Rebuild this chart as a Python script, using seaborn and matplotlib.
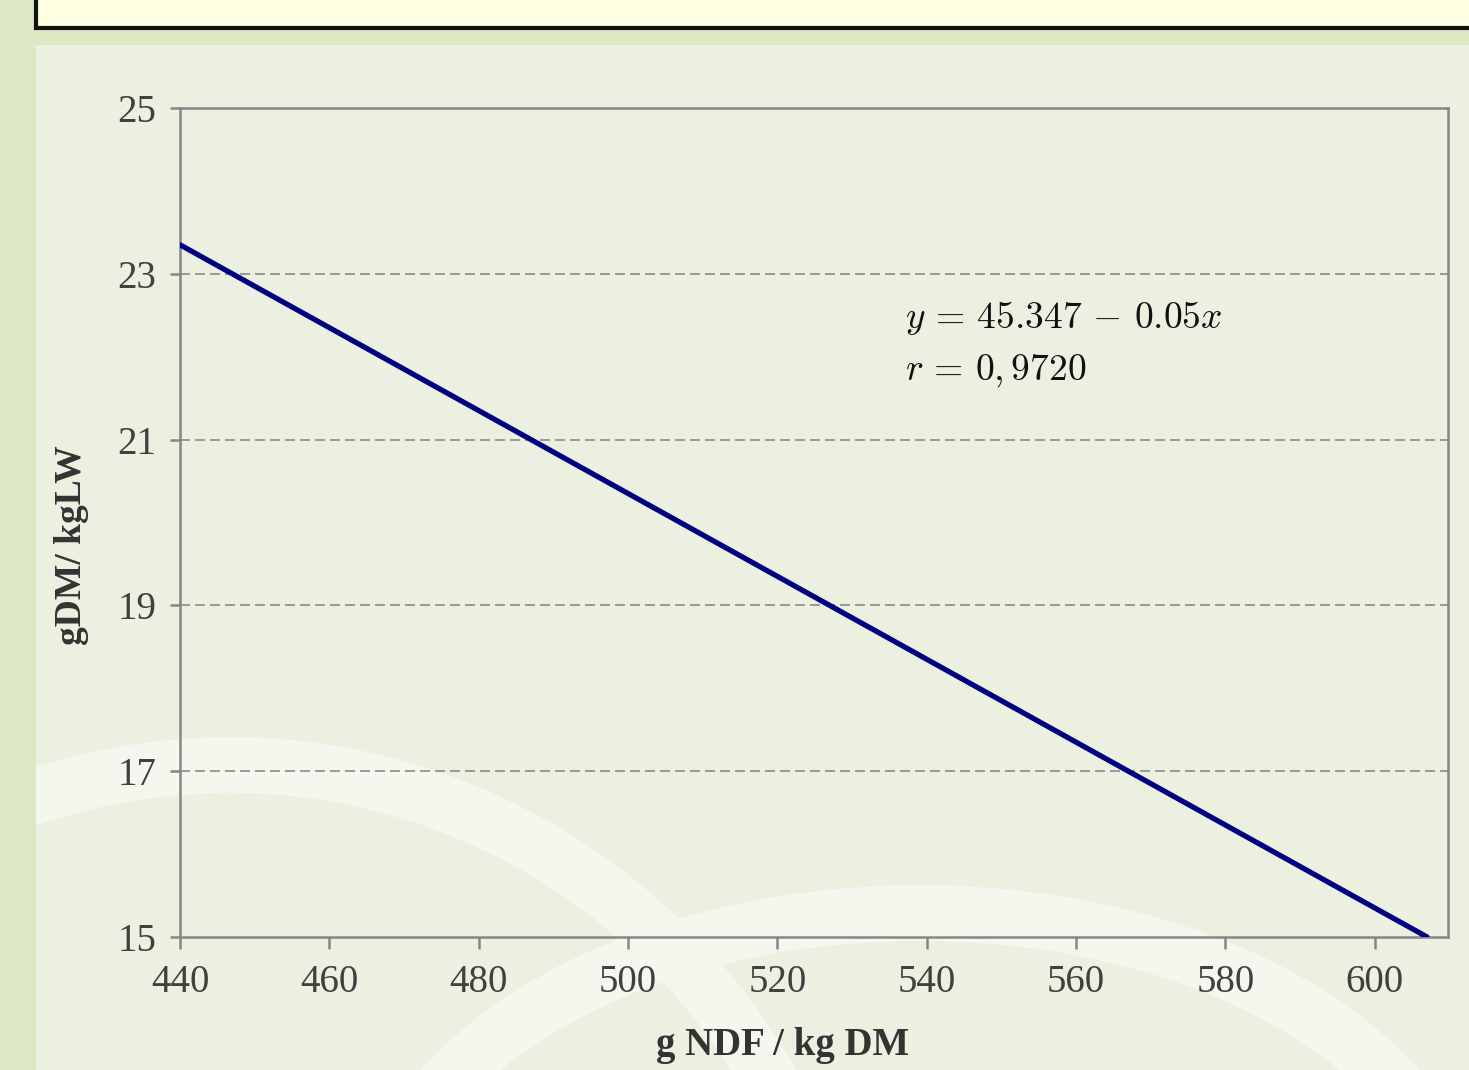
"""
Intake vs NDF content: linear regression line on a slide-style background.
"""

import matplotlib.pyplot as plt
import pandas as pd
import seaborn as sns
from matplotlib.patches import Ellipse, Rectangle

# Data
ndf = [440, 607]
intake = [23.35, 15.0]
x_ticks = [440, 460, 480, 500, 520, 540, 560, 580, 600]
y_ticks = [15, 17, 19, 21, 23, 25]
equation = r"$y \,=\, 45.347 \,-\, 0.05x$"
corr = r"$r \,=\, 0,9720$"

W, H = 1469, 1070

sns.set_theme(style="white")
plt.rcParams["font.family"] = ["Liberation Serif", "DejaVu Serif"]
plt.rcParams["mathtext.fontset"] = "cm"

fig = plt.figure(figsize=(W / 100, H / 100), dpi=100)
fig.patch.set_facecolor("#dce7c4")


def fx(x):
    return x / W


def fy(y):
    return 1 - y / H


# Slide decoration
panel = Rectangle((fx(36), 0), 1, fy(45), transform=fig.transFigure,
                  facecolor="#ecf0e0", edgecolor="none", zorder=0)
fig.patches.append(panel)

arc1 = Ellipse((fx(230), fy(1400)), 2 * 625 / W, 2 * 635 / H,
               transform=fig.transFigure, facecolor="none",
               edgecolor="#f6f8f0", linewidth=40, alpha=0.9, zorder=1)
arc1.set_clip_path(panel)
fig.patches.append(arc1)
arc2 = Ellipse((fx(920), fy(1250)), 2 * 545 / W, 2 * 337 / H,
               transform=fig.transFigure, facecolor="none",
               edgecolor="#f6f8f0", linewidth=40, alpha=0.9, zorder=1)
arc2.set_clip_path(panel)
fig.patches.append(arc2)

header = Rectangle((fx(36), fy(28)), 1.0, 0.1, transform=fig.transFigure,
                   facecolor="#fefee0", edgecolor="#111111", linewidth=3,
                   zorder=2)
fig.patches.append(header)

ax = fig.add_axes([fx(180), fy(937), (1448 - 180) / W, (937 - 108) / H])
ax.set_facecolor("none")
ax.set_zorder(3)

df = pd.DataFrame({"ndf": ndf, "intake": intake})
sns.lineplot(data=df, x="ndf", y="intake", ax=ax, color="#000080",
             linewidth=3.8, zorder=5)

ax.set_xlim(440, 609.8)
ax.set_ylim(15, 25)
ax.set_xticks(x_ticks)
ax.set_yticks(y_ticks)

for v in y_ticks[1:-1]:
    ax.axhline(v, color="#8a8a8a", linewidth=1.2, linestyle=(0, (6, 3)),
               zorder=2)

for s in ax.spines.values():
    s.set_color("#868686")
    s.set_linewidth(1.8)
    s.set_visible(True)

ax.tick_params(axis="both", colors="#868686", width=1.8, labelsize=28,
               labelcolor="#404040", direction="out")
ax.tick_params(axis="y", length=7, pad=10)
ax.tick_params(axis="x", length=8.5, pad=11)
ax.tick_params(bottom=True, left=True)

ax.set_xlabel("g NDF / kg DM", fontsize=28, fontweight="bold", color="#333333")
ax.set_ylabel("gDM/ kgLW", fontsize=27, fontweight="bold", color="#333333")
ax.xaxis.set_label_coords(0.475, -0.108)
ax.yaxis.set_label_coords(-0.072, 0.473)

ax.text(0.572, 0.747, equation, transform=ax.transAxes, fontsize=27,
        va="center", ha="left", color="#111111")
ax.text(0.572, 0.683, corr, transform=ax.transAxes, fontsize=27,
        va="center", ha="left", color="#111111")

fig.savefig("out.png", dpi=100)
